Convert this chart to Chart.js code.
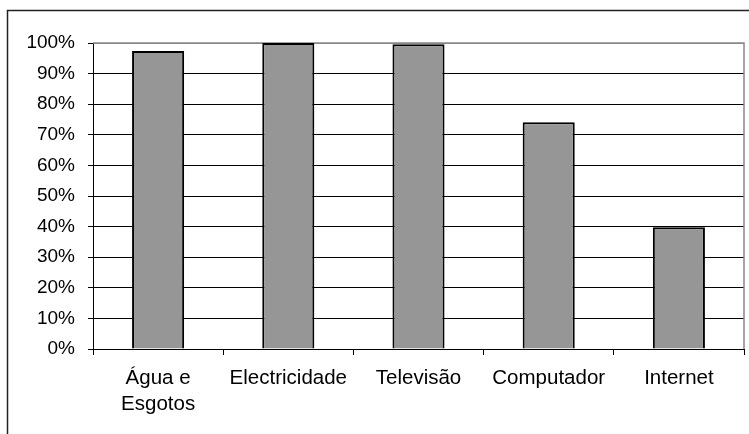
<!DOCTYPE html>
<html>
<head>
<meta charset="utf-8">
<script src="https://cdn.jsdelivr.net/npm/chart.js@4/dist/chart.umd.min.js"></script>
<style>
  html, body { margin: 0; padding: 0; background: #fff; }
  #wrap { width: 749px; height: 434px; }
</style>
</head>
<body>
<div id="wrap"><canvas id="chart" width="749" height="434"></canvas></div>
<script>
/* ================= DATA ================= */
const categories = [["Água e", "Esgotos"], "Electricidade", "Televisão", "Computador", "Internet"];
const values = [97.4, 100, 99.6, 74.1, 39.8];
const yTicksMax = 100;
const yTicksStep = 10;

/* ================= FRAME PLUGIN ================= */
const framePlugin = {
  id: "frame",
  beforeDraw(chart) {
    const c = chart.ctx;
    c.save();
    c.strokeStyle = "#222";
    c.lineWidth = 1.5;
    c.beginPath();
    c.moveTo(7.5, 434);
    c.lineTo(7.5, 10.5);
    c.lineTo(749, 10.5);
    c.stroke();
    c.restore();
  },
  beforeDatasetsDraw(chart) {
    const a = chart.chartArea;
    const c = chart.ctx;
    c.save();
    c.strokeStyle = "#888";
    c.lineWidth = 1.5;
    c.beginPath();
    c.moveTo(a.left, a.top);
    c.lineTo(a.right, a.top);
    c.lineTo(a.right, a.bottom);
    c.stroke();
    c.restore();
  }
};

/* ================= CHART ================= */
const ctx = document.getElementById("chart");
new Chart(ctx, {
  type: "bar",
  data: {
    labels: categories,
    datasets: [{
      data: values,
      backgroundColor: "#969696",
      borderColor: "#000",
      borderWidth: 2,
      barPercentage: 0.4,
      categoryPercentage: 1
    }]
  },
  options: {
    responsive: false,
    animation: false,
    layout: { padding: { left: 0, top: 43, right: 5, bottom: 0 } },
    plugins: { legend: { display: false }, tooltip: { enabled: false } },
    scales: {
      x: {
        afterFit(s) { s.height = 85; },
        grid: { display: true, offset: true, drawOnChartArea: false, drawTicks: true, tickLength: 6, color: "#000", lineWidth: 1 },
        border: { color: "#000", width: 1 },
        ticks: {
          color: "#000",
          padding: 11,
          font: { family: "'Liberation Sans', Arial, sans-serif", size: 20.5, lineHeight: 1.25 }
        }
      },
      y: {
        min: 0,
        max: yTicksMax,
        afterFit(s) { s.width = 93; },
        grid: {
          color: (c) => (c.tick && c.tick.value === yTicksMax ? "#888" : "#000"),
          tickColor: "#000",
          lineWidth: 1,
          tickLength: 5
        },
        border: { color: "#000", width: 1 },
        ticks: {
          stepSize: yTicksStep,
          color: "#000",
          padding: 13,
          font: { family: "'Liberation Sans', Arial, sans-serif", size: 19 },
          callback: (v) => v + "%"
        }
      }
    }
  },
  plugins: [framePlugin]
});
</script>
</body>
</html>
